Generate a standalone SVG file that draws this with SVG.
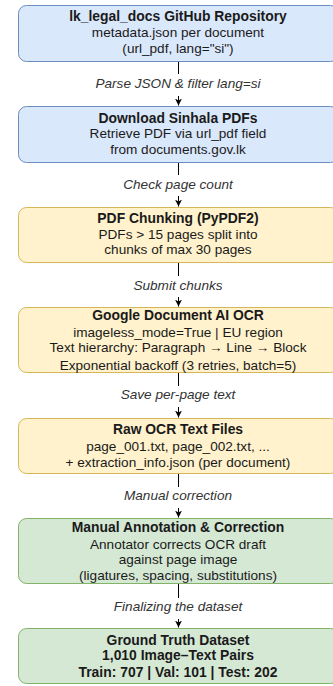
<svg xmlns="http://www.w3.org/2000/svg" width="333" height="686" viewBox="0 0 333 686">
<style>
text{font-family:"Liberation Sans",Arial,sans-serif;font-size:13.6px;fill:#1a1a1a;text-anchor:middle}
.t{font-weight:bold;font-size:13.9px}
.l{font-style:italic;fill:#333}
.blue{fill:#dae8fc;stroke:#6c8ebf;stroke-width:1}
.yel{fill:#fff2cc;stroke:#d6b656;stroke-width:1}
.grn{fill:#d5e8d4;stroke:#82b366;stroke-width:1}
.c{stroke:#000;stroke-width:1;fill:none}
</style>
<defs>
<marker id="ah" markerWidth="8" markerHeight="8" refX="7" refY="4" orient="auto" markerUnits="userSpaceOnUse">
<path d="M0,0.5 L7,4 L0,7.5 L2,4 Z" fill="#000"/>
</marker>
</defs>
<rect width="333" height="686" fill="#fff"/>
<g id="connectors">
<path class="c" d="M178.5,61 V74"/><path class="c" d="M178.5,96 V105.5" marker-end="url(#ah)"/>
<text class="l" x="178" y="88">Parse JSON &amp; filter lang=si</text>
<path class="c" d="M178.5,162 V175"/><path class="c" d="M178.5,196 V206.5" marker-end="url(#ah)"/>
<text class="l" x="178" y="189">Check page count</text>
<path class="c" d="M178.5,262 V276"/><path class="c" d="M178.5,297 V306.5" marker-end="url(#ah)"/>
<text class="l" x="178" y="290">Submit chunks</text>
<path class="c" d="M178.5,372 V386"/><path class="c" d="M178.5,407 V417.5" marker-end="url(#ah)"/>
<text class="l" x="178" y="399">Save per-page text</text>
<path class="c" d="M178.5,473 V487"/><path class="c" d="M178.5,508 V517.5" marker-end="url(#ah)"/>
<text class="l" x="178" y="500">Manual correction</text>
<path class="c" d="M178.5,583 V598"/><path class="c" d="M178.5,619 V627.5" marker-end="url(#ah)"/>
<text class="l" x="178" y="611">Finalizing the dataset</text>
</g>
<g id="n1">
<rect class="blue" x="18.5" y="5.5" width="320" height="56" rx="8"/>
<text class="t" x="178" y="21">lk_legal_docs GitHub Repository</text>
<text x="178" y="37">metadata.json per document</text>
<text x="178" y="53">(url_pdf, lang="si")</text>
</g>
<g id="n2">
<rect class="blue" x="18.5" y="106.5" width="320" height="56" rx="8"/>
<text class="t" x="178" y="123">Download Sinhala PDFs</text>
<text x="178" y="138">Retrieve PDF via url_pdf field</text>
<text x="178" y="154">from documents.gov.lk</text>
</g>
<g id="n3">
<rect class="yel" x="18.5" y="207.5" width="320" height="55" rx="8"/>
<text class="t" x="178" y="223">PDF Chunking (PyPDF2)</text>
<text x="178" y="239">PDFs &gt; 15 pages split into</text>
<text x="178" y="254">chunks of max 30 pages</text>
</g>
<g id="n4">
<rect class="yel" x="18.5" y="307.5" width="320" height="65" rx="8"/>
<text class="t" x="178" y="320">Google Document AI OCR</text>
<text x="178" y="337">imageless_mode=True | EU region</text>
<text x="178" y="352">Text hierarchy: Paragraph → Line → Block</text>
<text x="178" y="370">Exponential backoff (3 retries, batch=5)</text>
</g>
<g id="n5">
<rect class="yel" x="18.5" y="418.5" width="320" height="55" rx="8"/>
<text class="t" x="178" y="434">Raw OCR Text Files</text>
<text x="178" y="451">page_001.txt, page_002.txt, ...</text>
<text x="178" y="467">+ extraction_info.json (per document)</text>
</g>
<g id="n6">
<rect class="grn" x="18.5" y="518.5" width="320" height="65" rx="8"/>
<text class="t" x="178" y="532">Manual Annotation &amp; Correction</text>
<text x="178" y="549">Annotator corrects OCR draft</text>
<text x="178" y="564">against page image</text>
<text x="178" y="580">(ligatures, spacing, substitutions)</text>
</g>
<g id="n7">
<rect class="grn" x="18.5" y="628.5" width="320" height="55" rx="8"/>
<text class="t" x="178" y="645">Ground Truth Dataset</text>
<text class="t" x="178" y="660">1,010 Image–Text Pairs</text>
<text class="t" x="178" y="677">Train: 707 | Val: 101 | Test: 202</text>
</g>
</svg>
